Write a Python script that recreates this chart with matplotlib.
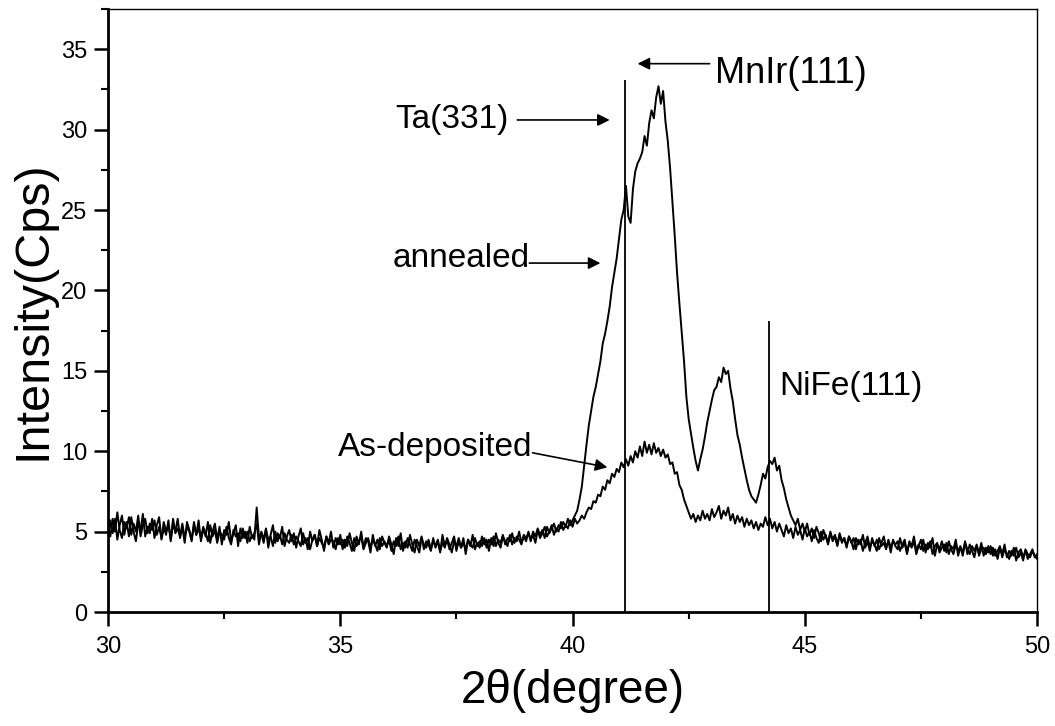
import numpy as np
import matplotlib
matplotlib.use("Agg")
import matplotlib.pyplot as plt
from matplotlib.ticker import MultipleLocator

plt.rcParams['font.family'] = ['Liberation Sans', 'DejaVu Sans']

# 2theta grid, 30..50 deg, step 0.05
two_theta = np.round(np.linspace(30.0, 50.0, 401), 2)

# intensity (Cps), one row per degree
as_deposited = [
    4.6, 5.7, 4.9, 5.8, 4.5, 5.4, 6.0, 4.8, 5.6, 4.7, 5.9, 5.0, 4.4, 5.5, 5.1, 6.1, 4.7, 5.3, 4.9, 5.8,
    4.6, 5.4, 5.9, 4.5, 5.2, 4.8, 5.7, 4.4, 5.5, 5.0, 5.8, 4.6, 5.3, 4.3, 5.6, 5.1, 4.5, 5.4, 4.8, 5.7,
    4.4, 5.2, 4.7, 5.6, 4.3, 5.0, 5.5, 4.5, 5.3, 4.2, 5.1, 4.8, 5.6, 4.4, 4.9, 5.4, 4.1, 5.2, 4.6, 5.0,
    4.3, 5.3, 4.6, 4.9, 5.5, 4.2, 5.0, 4.5, 5.2, 4.0, 4.8, 5.4, 4.3, 4.9, 4.6, 5.3, 4.1, 4.7, 5.1, 4.4,
    4.9, 4.0, 4.7, 5.2, 4.2, 4.6, 3.9, 5.0, 4.4, 4.8, 4.1, 5.1, 4.5, 3.8, 4.7, 4.3, 5.0, 4.0, 4.6, 4.2,
    4.8, 3.9, 4.5, 4.1, 4.9, 4.3, 3.8, 4.7, 4.2, 5.0, 4.0, 4.6, 4.4, 3.7, 4.8, 4.1, 4.5, 3.9, 4.7, 4.3,
    4.0, 4.7, 4.2, 3.6, 4.6, 4.1, 4.9, 3.8, 4.4, 4.0, 4.8, 4.2, 3.7, 4.5, 4.1, 4.7, 3.9, 4.4, 4.2, 3.8,
    4.6, 4.0, 4.4, 3.7, 4.8, 4.1, 4.5, 3.9, 4.3, 4.7, 3.8, 4.4, 4.0, 4.6, 3.6, 4.5, 4.1, 4.8, 3.9, 4.3,
    4.0, 4.7, 4.2, 4.5, 3.8, 4.6, 4.1, 4.9, 4.3, 4.0, 4.7, 4.4, 4.1, 4.8, 4.2, 4.6, 4.4, 5.0, 4.3, 4.7,
    4.4, 5.0, 4.5, 4.8, 4.3, 5.1, 4.6, 4.9, 5.3, 4.7, 5.0, 5.4, 4.8, 5.2, 5.0, 5.6, 5.1, 5.4, 5.2, 5.7,
    5.3, 5.8, 5.5, 5.7, 6.0, 5.8, 6.2, 6.5, 6.4, 6.9, 6.8, 7.3, 7.2, 7.8, 7.6, 8.2, 8.0, 8.6, 8.4, 8.9,
    8.7, 9.3, 9.0, 9.5, 9.1, 9.7, 9.3, 10.0, 9.6, 10.3, 9.7, 10.6, 9.9, 10.4, 9.8, 10.5, 9.9, 10.2, 9.7, 10.1,
    9.6, 9.8, 9.2, 9.3, 8.6, 8.7, 7.9, 7.6, 7.0, 6.6, 6.2, 5.8, 6.1, 5.6, 6.0, 5.7, 6.3, 5.8, 6.1, 5.7,
    6.4, 5.9, 6.2, 6.6, 5.8, 6.3, 6.0, 6.5, 5.7, 6.1, 5.5, 6.0, 5.6, 5.9, 5.3, 5.8, 5.4, 5.7, 5.2, 5.6,
    5.1, 5.5, 5.3, 5.9, 5.4, 5.8, 5.2, 5.6, 5.0, 5.5, 5.1, 4.7, 5.4, 4.9, 5.2, 4.6, 5.3, 4.8, 5.1, 4.5,
    5.2, 4.7, 5.0, 4.4, 5.1, 4.6, 4.3, 5.0, 4.5, 4.8, 4.2, 4.9, 4.4, 4.7, 4.1, 4.8, 4.3, 4.6, 4.0, 4.7,
    4.3, 4.6, 3.9, 4.5, 4.2, 4.8, 4.0, 4.4, 3.8, 4.6, 4.1, 4.5, 3.9, 4.3, 4.7, 4.0, 4.4, 3.7, 4.5, 4.1,
    3.9, 4.6, 4.0, 4.3, 3.6, 4.4, 4.1, 4.7, 3.8, 4.2, 3.9, 4.5, 3.7, 4.3, 4.0, 4.6, 3.5, 4.2, 3.9, 4.4,
    3.8, 4.3, 3.6, 4.1, 3.9, 4.5, 3.5, 4.0, 3.7, 4.4, 3.6, 4.2, 3.8, 3.4, 4.1, 3.7, 4.3, 3.5, 4.0, 3.7,
    4.1, 3.5, 3.9, 3.3, 4.0, 3.6, 4.2, 3.4, 3.8, 3.5, 4.0, 3.2, 3.7, 3.9, 3.4, 3.8, 3.3, 3.6, 3.9, 3.4,
    3.6,
]
annealed = [
    5.3, 4.7, 5.8, 5.0, 6.2, 5.1, 4.6, 5.6, 5.2, 5.9, 4.8, 5.5, 5.0, 6.0, 4.7, 5.4, 5.8, 4.9, 5.5, 5.1,
    5.7, 4.8, 5.3, 4.6, 5.6, 5.0, 5.4, 4.5, 5.8, 4.9, 5.2, 4.7, 5.5, 4.6, 5.3, 5.0, 4.4, 5.6, 4.8, 5.2,
    4.6, 5.3, 4.9, 4.4, 5.4, 4.7, 5.1, 4.3, 5.0, 4.8, 4.5, 5.3, 4.6, 4.2, 5.1, 4.7, 4.9, 4.4, 5.2, 4.6,
    5.0, 4.4, 4.8, 4.5, 6.5, 4.6, 4.9, 4.3, 5.1, 4.5, 4.7, 4.1, 5.0, 4.4, 4.8, 4.2, 4.9, 4.5, 4.3, 4.8,
    4.2, 4.7, 4.4, 4.1, 4.9, 4.3, 4.6, 3.9, 4.5, 4.8, 4.1, 4.6, 4.3, 4.0, 4.7, 4.2, 4.5, 4.4, 3.9, 4.6,
    4.2, 4.5, 4.0, 4.7, 4.3, 3.8, 4.6, 4.1, 4.4, 4.7, 3.9, 4.3, 4.6, 4.0, 4.5, 4.2, 3.8, 4.6, 4.1, 4.4,
    4.1, 4.5, 3.8, 4.4, 4.1, 4.7, 3.9, 4.3, 4.0, 4.6, 4.2, 3.8, 4.5, 4.1, 3.7, 4.6, 4.2, 4.0, 4.5, 3.9,
    4.4, 4.1, 4.5, 3.8, 4.3, 4.0, 4.6, 4.2, 3.7, 4.4, 4.1, 4.6, 4.0, 4.3, 3.9, 4.5, 4.2, 4.0, 4.6, 4.1,
    4.4, 4.1, 4.6, 4.0, 4.5, 4.2, 4.7, 4.1, 4.5, 4.3, 4.8, 4.2, 4.6, 4.4, 4.9, 4.3, 4.7, 4.5, 4.2, 4.8,
    4.6, 4.9, 4.4, 5.0, 4.7, 5.2, 4.8, 5.1, 4.6, 5.3, 4.9, 5.2, 5.5, 5.0, 5.4, 5.2, 5.6, 5.3, 5.8, 5.4,
    5.7, 6.0, 6.3, 7.0, 7.8, 9.1, 10.4, 11.6, 12.5, 13.4, 14.0, 14.8, 15.6, 16.7, 17.3, 18.1, 19.0, 20.2, 21.1, 22.0,
    23.2, 24.4, 25.0, 26.5, 24.6, 24.2, 26.3, 27.4, 27.9, 28.2, 28.6, 29.6, 29.0, 30.4, 31.2, 30.7, 32.0, 32.7, 31.6, 32.4,
    30.5, 29.3, 27.6, 25.5, 23.4, 21.1, 19.2, 17.4, 15.6, 13.4, 12.0, 11.1, 10.2, 9.4, 8.8, 9.5, 10.1, 10.9, 11.8, 12.5,
    13.2, 13.8, 14.0, 14.6, 14.3, 15.2, 14.8, 15.0, 13.9, 13.1, 12.0, 11.0, 10.4, 9.6, 8.9, 8.2, 7.6, 7.2, 7.0, 6.8,
    7.3, 7.9, 8.6, 8.3, 9.0, 9.4, 9.2, 9.6, 8.8, 9.1, 8.2, 7.7, 7.0, 6.5, 6.0, 5.7, 5.4, 5.8, 5.1, 5.5,
    5.0, 5.5, 4.8, 5.2, 4.6, 5.3, 4.9, 4.4, 5.1, 4.7, 4.3, 5.0, 4.5, 4.8, 4.2, 4.9, 4.4, 4.6, 4.1, 4.7,
    4.4, 3.9, 4.6, 4.2, 4.5, 3.8, 4.3, 4.7, 4.0, 4.4, 4.2, 3.8, 4.6, 4.1, 4.3, 3.9, 4.5, 4.0, 4.4, 4.2,
    4.4, 3.8, 4.2, 4.5, 3.7, 4.3, 4.0, 4.4, 3.6, 4.1, 4.5, 3.8, 4.2, 3.9, 4.4, 3.6, 4.1, 4.3, 3.7, 4.0,
    4.2, 3.7, 4.4, 3.9, 3.6, 4.2, 3.8, 4.1, 3.5, 4.3, 3.9, 3.6, 4.1, 3.8, 4.2, 3.5, 3.9, 4.0, 3.6, 4.1,
    3.6, 4.0, 3.5, 3.8, 4.1, 3.4, 3.9, 3.6, 3.3, 3.8, 3.5, 4.0, 3.4, 3.7, 3.2, 3.9, 3.6, 3.4, 3.8, 3.5,
    3.3,
]

# reference peak positions (deg) and marker heights
ref_pos = [41.12, 44.22]
ref_top = [33.1, 18.1]

fig = plt.figure(figsize=(10.55, 7.26), dpi=100)
ax = fig.add_axes([0.1024, 0.157, 0.8806, 0.8306])

ax.plot(two_theta, as_deposited, color='black', lw=1.4)
ax.plot(two_theta, annealed, color='black', lw=1.4)
ax.vlines(ref_pos, 0, ref_top, color='black', lw=1.3)

ax.set_xlim(30, 50)
ax.set_ylim(0, 37.5)
ax.xaxis.set_major_locator(MultipleLocator(5))
ax.xaxis.set_minor_locator(MultipleLocator(2.5))
ax.yaxis.set_major_locator(MultipleLocator(5))
ax.yaxis.set_minor_locator(MultipleLocator(2.5))
ax.tick_params(which='both', direction='out', top=False, right=False, labelsize=17)
ax.tick_params(which='major', length=10, width=1.8)
ax.tick_params(which='minor', length=5, width=1.5)
ax.tick_params(axis='y', pad=5)
ax.tick_params(axis='x', pad=7)
for side in ['left', 'bottom']:
    ax.spines[side].set_linewidth(2.0)
for side in ['top', 'right']:
    ax.spines[side].set_linewidth(1.0)

ax.set_xlabel('2\u03b8(degree)', fontsize=33, labelpad=8)
ax.set_ylabel('Intensity(Cps)', fontsize=35, labelpad=4)

arrow = dict(arrowstyle='-|>', color='black', lw=1.2, mutation_scale=18,
             shrinkA=0, shrinkB=0)
txt = 24

ax.text(36.19, 30.6, 'Ta(331)', fontsize=txt, va='center', ha='left')
ax.annotate('', xy=(40.80, 30.6), xytext=(38.81, 30.6), arrowprops=arrow)

ax.text(43.06, 33.5, 'MnIr(111)', fontsize=26, va='center', ha='left')
ax.annotate('', xy=(41.40, 34.1), xytext=(42.95, 34.1), arrowprops=arrow)

ax.text(39.07, 22.0, 'annealed', fontsize=txt, va='center', ha='right')
ax.annotate('', xy=(40.60, 21.7), xytext=(39.07, 21.7), arrowprops=arrow)

ax.text(39.14, 10.25, 'As-deposited', fontsize=txt, va='center', ha='right')
ax.annotate('', xy=(40.75, 9.0), xytext=(39.14, 9.9), arrowprops=arrow)

ax.text(44.46, 14.0, 'NiFe(111)', fontsize=txt, va='center', ha='left')

fig.savefig('out.png', dpi=100)
